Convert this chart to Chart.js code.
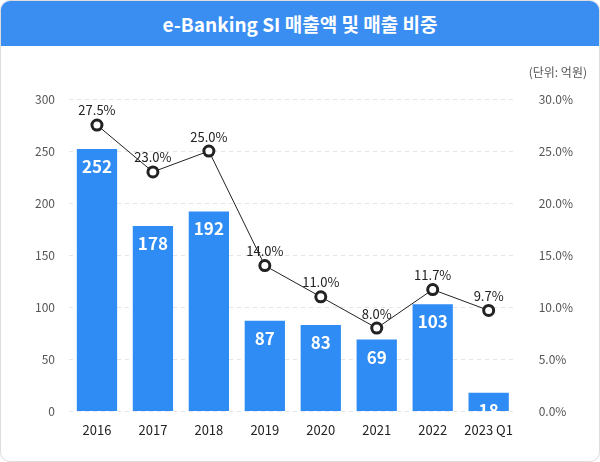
<!DOCTYPE html>
<html><head><meta charset="utf-8">
<script src="https://cdn.jsdelivr.net/npm/chart.js@4"></script>
<style>
body{margin:0;font-family:"Noto Sans CJK KR","Noto Sans",sans-serif;}
#wrap{position:relative;width:598px;height:460px;border:1px solid #ddd;border-radius:10px;overflow:hidden;background:#fff}
#head{height:45px;background:#3a8ef2;color:#fff;font-size:19px;font-weight:bold;text-align:center;line-height:45px}
#unit{position:absolute;top:62px;right:12px;font-size:12px;color:#555}
canvas{display:block}
</style></head><body>
<div id="wrap"><div id="head">e-Banking SI 매출액 및 매출 비중</div>
<div id="unit">(단위: 억원)</div>
<canvas id="c" width="598" height="415"></canvas></div>
<script>
const years = ["2016","2017","2018","2019","2020","2021","2022","2023 Q1"];
const sales = [252,178,192,87,83,69,103,18];
const share = [27.5,23.0,25.0,14.0,11.0,8.0,11.7,9.7];

const labelPlugin = {
  id: "labels",
  afterDatasetsDraw(chart) {
    const ctx = chart.ctx;
    ctx.save();
    ctx.textAlign = "center";
    chart.getDatasetMeta(1).data.forEach((b, i) => {
      ctx.fillStyle = "#fff";
      ctx.font = "bold 17px 'Noto Sans CJK KR'";
      ctx.textBaseline = "top";
      ctx.fillText(sales[i], b.x, b.y + 9);
    });
    chart.getDatasetMeta(0).data.forEach((p, i) => {
      ctx.fillStyle = "#222";
      ctx.font = "13px 'Noto Sans CJK KR'";
      ctx.textBaseline = "bottom";
      ctx.fillText(share[i].toFixed(1) + "%", p.x, p.y - 8);
    });
    ctx.restore();
  }
};

Chart.defaults.font.family = "'Noto Sans CJK KR'";
Chart.defaults.color = "#555";
new Chart("c", {
  data: {
    labels: years,
    datasets: [
      {type: "line", data: share, yAxisID: "y1", borderColor: "#222", borderWidth: 1,
       pointRadius: 5, pointBorderWidth: 3, pointBackgroundColor: "#fff", pointBorderColor: "#222", order: 0},
      {type: "bar", data: sales, yAxisID: "y", backgroundColor: "#2f8cf4", barPercentage: 0.72, categoryPercentage: 1, order: 1}
    ]
  },
  options: {
    responsive: false, animation: false,
    layout: {padding: {top: 53, right: 12, left: 20, bottom: 20}},
    plugins: {legend: {display: false}, tooltip: {enabled: false}},
    scales: {
      x: {grid: {display: false}, border: {display: false},
          ticks: {color: "#222", font: {size: 13}, maxRotation: 0, autoSkip: false}},
      y: {min: 0, max: 300, ticks: {stepSize: 50, font: {size: 12}, padding: 14},
          grid: {color: "#e6e6e6", drawTicks: false}, border: {display: false, dash: [4, 4]}},
      y1: {position: "right", min: 0, max: 30, ticks: {stepSize: 5, font: {size: 12}, padding: 14,
           callback: v => v.toFixed(1) + "%"}, grid: {display: false}, border: {display: false}}
    }
  },
  plugins: [labelPlugin]
});
</script>
</body></html>
